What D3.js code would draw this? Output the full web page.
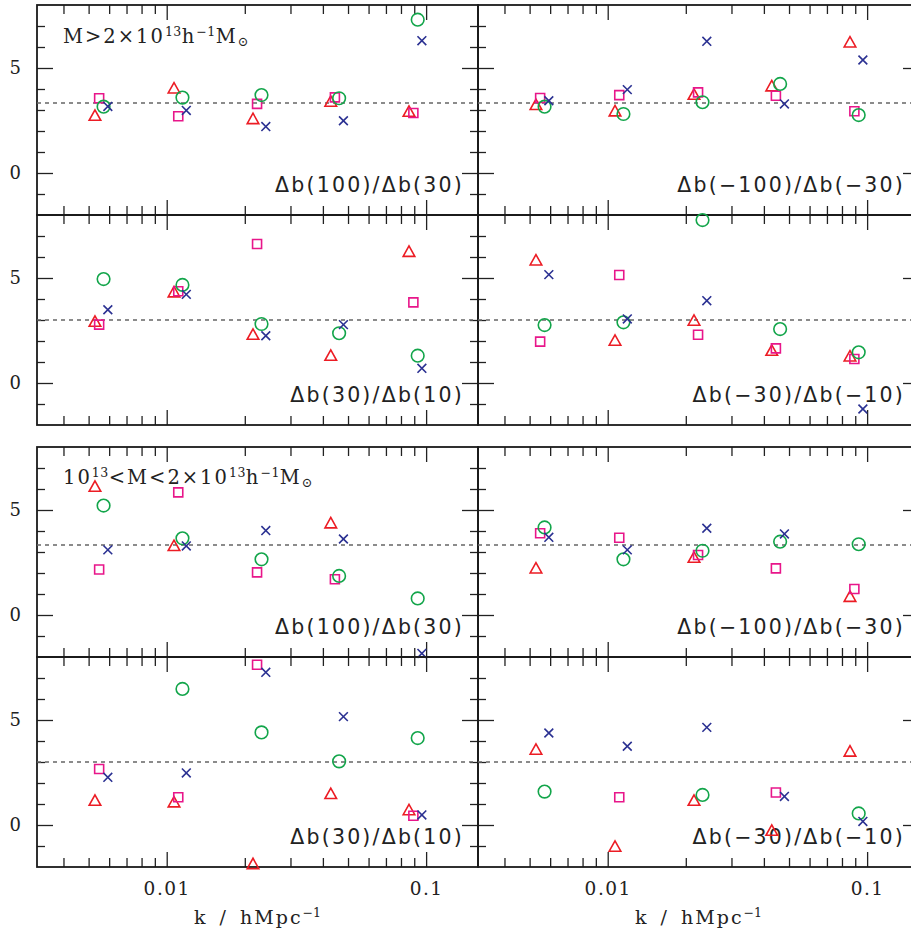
<!DOCTYPE html>
<html>
<head>
<meta charset="utf-8">
<script src="https://cdn.jsdelivr.net/npm/d3@7"></script>
<style>
  body { margin: 0; background: #fff; }
  svg { display: block; }
</style>
</head>
<body>
<script>
// k values (h/Mpc) of the five bins, slightly shifted for each symbol
const kTriangle = [0.00529, 0.01067, 0.02151, 0.0429, 0.0859];
const kSquare   = [0.00549, 0.01108, 0.0223, 0.0445, 0.0893];
const kCircle   = [0.00571, 0.0115, 0.0232, 0.0462, 0.0928];
const kCross    = [0.00593, 0.0119, 0.0241, 0.048, 0.0963];

// panels in order: mass group, row, column
const panelLabels = [
  'Δb(100)/Δb(30)', 'Δb(−100)/Δb(−30)',
  'Δb(30)/Δb(10)', 'Δb(−30)/Δb(−10)',
  'Δb(100)/Δb(30)', 'Δb(−100)/Δb(−30)',
  'Δb(30)/Δb(10)', 'Δb(−30)/Δb(−10)'
];
const refLines = [10 / 3, 10 / 3, 3, 3, 10 / 3, 10 / 3, 3, 3];

// one row per panel, five bins each (null = not in the plot)
const triangleValues = [
  [2.73, 4.03, 2.57, 3.40, 2.92],
  [3.24, 2.94, 3.73, 4.13, 6.22],
  [2.92, 4.32, 2.30, 1.30, 6.25],
  [5.84, 2.02, 2.97, 1.54, 1.27],
  [6.11, 3.29, null, 4.37, null],
  [2.22, null, 2.73, null, 0.87],
  [1.16, 1.08, -1.86, 1.48, 0.71],
  [3.59, -1.03, 1.16, -0.27, 3.50]
];
const squareValues = [
  [3.56, 2.70, 3.29, 3.60, 2.86],
  [3.57, 3.71, 3.84, 3.68, 2.94],
  [2.78, 4.37, 6.62, null, 3.84],
  [1.97, 5.14, 2.30, 1.65, 1.14],
  [2.17, 5.84, 2.03, 1.70, null],
  [3.89, 3.68, 2.86, 2.22, 1.24],
  [2.67, 1.32, 7.63, null, 0.44],
  [null, 1.32, null, 1.55, null]
];
const circleValues = [
  [3.16, 3.59, 3.71, 3.56, 7.30],
  [3.16, 2.81, 3.37, 4.24, 2.76],
  [4.95, 4.67, 2.81, 2.37, 1.30],
  [2.76, 2.89, 7.76, 2.57, 1.46],
  [5.21, 3.65, 2.65, 1.86, 0.79],
  [4.17, 2.65, 3.06, 3.49, 3.37],
  [null, 6.48, 4.41, 3.03, 4.14],
  [1.59, null, 1.43, null, 0.55]
];
const crossValues = [
  [3.17, 2.98, 2.21, 2.49, 6.30],
  [3.44, 3.97, 6.27, 3.29, 5.38],
  [3.49, 4.22, 2.25, 2.78, 0.70],
  [5.16, 3.05, 3.92, null, -1.24],
  [3.10, 3.29, 4.02, 3.62, -1.83],
  [3.70, 3.10, 4.13, 3.86, null],
  [2.27, 2.48, 7.27, 5.16, 0.48],
  [4.38, 3.75, 4.65, 1.36, 0.17]
];

const xMajor = [0.01, 0.1];
const xMinor = [0.004, 0.005, 0.006, 0.007, 0.008, 0.009, 0.02, 0.03, 0.04, 0.05, 0.06, 0.07, 0.08, 0.09];
const yMajor = [0, 5];
const yMinor = [-1, 1, 2, 3, 4, 6, 7];

const W = 911, H = 936;
const panelW = 441, panelH = 210;
const colLeft = [37, 478];
const groupTop = [5, 447];

const svg = d3.select('body').append('svg')
  .attr('width', W)
  .attr('height', H);

const series = [
  { k: kTriangle, vals: triangleValues, color: '#ec1c24', shape: 'triangle' },
  { k: kSquare, vals: squareValues, color: '#e8168a', shape: 'square' },
  { k: kCircle, vals: circleValues, color: '#12a54a', shape: 'circle' },
  { k: kCross, vals: crossValues, color: '#2b3192', shape: 'cross' }
];

function symbolPath(shape) {
  if (shape === 'triangle') return 'M0,-5.8L5.8,4.6L-5.8,4.6Z';
  if (shape === 'square') return 'M-4.5,-4.5H4.5V4.5H-4.5Z';
  if (shape === 'circle') return 'M6.3,0A6.3,6.3 0 1,1 -6.3,0A6.3,6.3 0 1,1 6.3,0Z';
  return 'M-4.4,-4.4L4.4,4.4M-4.4,4.4L4.4,-4.4';
}

function styleTicks(g) {
  g.select('.domain').remove();
  g.selectAll('line').attr('stroke', '#222').attr('stroke-width', 1.3);
}

panelLabels.forEach((label, p) => {
  const group = Math.floor(p / 4);
  const row = Math.floor((p % 4) / 2);
  const col = p % 2;
  const left = colLeft[col];
  const top = groupTop[group] + row * panelH;

  const x = d3.scaleLog()
    .domain([Math.pow(10, -2.5), Math.pow(10, -0.8)])
    .range([left, left + panelW]);
  const y = d3.scaleLinear()
    .domain([-2, 8])
    .range([top + panelH, top]);

  const g = svg.append('g');

  // ticks, pointing inwards on all four sides
  [[xMinor, 9], [xMajor, 15]].forEach(([vals, len]) => {
    g.append('g').attr('transform', `translate(0,${top})`)
      .call(d3.axisBottom(x).tickValues(vals).tickSize(len).tickFormat(''))
      .call(styleTicks);
    g.append('g').attr('transform', `translate(0,${top + panelH})`)
      .call(d3.axisTop(x).tickValues(vals).tickSize(len).tickFormat(''))
      .call(styleTicks);
  });
  [[yMinor, 8], [yMajor, 16]].forEach(([vals, len]) => {
    g.append('g').attr('transform', `translate(${left},0)`)
      .call(d3.axisRight(y).tickValues(vals).tickSize(len).tickFormat(''))
      .call(styleTicks);
    g.append('g').attr('transform', `translate(${left + panelW},0)`)
      .call(d3.axisLeft(y).tickValues(vals).tickSize(len).tickFormat(''))
      .call(styleTicks);
  });

  g.append('rect')
    .attr('x', left).attr('y', top)
    .attr('width', panelW).attr('height', panelH)
    .attr('fill', 'none')
    .attr('stroke', '#1a1a1a')
    .attr('stroke-width', 1.8);

  // y tick labels on the left column
  if (col === 0) {
    g.append('g').attr('transform', `translate(${left},0)`)
      .call(d3.axisLeft(y).tickValues(yMajor).tickSize(0).tickPadding(16).tickFormat(d3.format('d')))
      .call(a => a.select('.domain').remove())
      .selectAll('text')
      .attr('font-family', 'DejaVu Serif')
      .attr('font-size', 18)
      .attr('fill', '#222');
  }

  // x tick labels and title under the last row
  if (group === 1 && row === 1) {
    g.append('g').attr('transform', `translate(0,${top + panelH})`)
      .call(d3.axisBottom(x).tickValues(xMajor).tickSize(0).tickPadding(15).tickFormat(d => d === 0.01 ? '0.01' : '0.1'))
      .call(a => a.select('.domain').remove())
      .selectAll('text')
      .attr('font-family', 'DejaVu Serif')
      .attr('font-size', 18.5)
      .attr('letter-spacing', 1.5)
      .attr('fill', '#222');

    const title = g.append('text')
      .attr('x', left + panelW / 2)
      .attr('y', top + panelH + 57)
      .attr('text-anchor', 'middle')
      .attr('font-family', 'DejaVu Serif')
      .attr('font-size', 19)
      .attr('fill', '#222');
    title.append('tspan').attr('letter-spacing', 2).attr('word-spacing', 4).text('k / hMpc');
    title.append('tspan').attr('font-size', 12.5).attr('dy', -7).text('−1');
  }

  // reference ratio line
  g.append('line')
    .attr('x1', left).attr('x2', left + panelW)
    .attr('y1', y(refLines[p])).attr('y2', y(refLines[p]))
    .attr('stroke', '#666')
    .attr('stroke-width', 1.3)
    .attr('stroke-dasharray', '4,4');

  g.append('text')
    .attr('x', left + panelW - 14)
    .attr('y', y(-0.92))
    .attr('text-anchor', 'end')
    .attr('font-family', 'DejaVu Sans')
    .attr('font-size', 20.5)
    .attr('letter-spacing', 2.2)
    .attr('fill', '#222')
    .text(label);

  // mass range label
  if (row === 0 && col === 0) {
    const t = g.append('text')
      .attr('x', left + 26)
      .attr('y', group === 0 ? top + 38 : top + 37)
      .attr('font-family', 'DejaVu Serif')
      .attr('font-size', 19.5)
      .attr('fill', '#222');
    const sup = (s) => t.append('tspan').attr('font-size', 12.5).attr('letter-spacing', 0.5).attr('dy', -7).text(s);
    const base = (s) => t.append('tspan').attr('letter-spacing', 2).attr('dy', 7).text(s);
    if (group === 0) {
      t.append('tspan').attr('letter-spacing', 2).text('M>2×10');
    } else {
      t.append('tspan').attr('letter-spacing', 2).text('10');
      sup('13');
      base('<M<2×10');
    }
    sup('13');
    base('h');
    sup('−1');
    base('M');
    t.append('tspan').attr('font-size', 13).attr('dy', 3).text('⊙');
  }

  // data points
  series.forEach(s => {
    const pts = s.vals[p]
      .map((v, i) => ({ k: s.k[i], v }))
      .filter(d => d.v !== null);
    g.selectAll(null)
      .data(pts)
      .enter().append('path')
      .attr('transform', d => `translate(${x(d.k)},${y(d.v)})`)
      .attr('d', symbolPath(s.shape))
      .attr('fill', 'none')
      .attr('stroke', s.color)
      .attr('stroke-width', 1.6);
  });
});
</script>
</body>
</html>
